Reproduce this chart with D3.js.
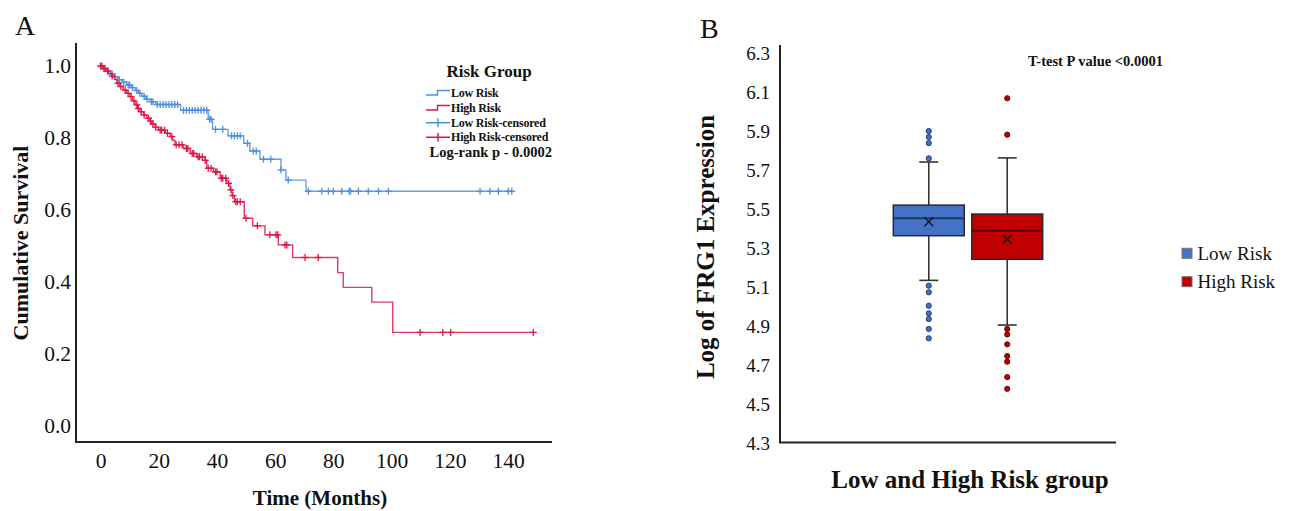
<!DOCTYPE html>
<html><head><meta charset="utf-8">
<script src="https://cdn.jsdelivr.net/npm/d3@7"></script>
<style>
body{margin:0;background:#fff}
svg{display:block}
text{font-family:"Liberation Serif","Times New Roman",serif;fill:#111}
</style>
</head><body>
<svg id="c" width="1293" height="511"></svg>
<script>
// ---------- Panel A: Kaplan-Meier data ----------
const kmTickLabels = [0, 20, 40, 60, 80, 100, 120, 140];
const survTickLabels = [0.0, 0.2, 0.4, 0.6, 0.8, 1.0];

const lowTimes = [0, 1.0, 2.0, 3.5, 4.5, 6.0, 7.5, 9.0, 10.5, 12.0, 13.0, 14.2, 15.5, 17.0, 19.0, 27.5, 37.0, 38.5, 43.8, 49.2, 51.3, 54.8, 62.0, 63.7, 70.6];
const lowSurv  = [1.0, 0.993, 0.986, 0.978, 0.970, 0.962, 0.955, 0.947, 0.940, 0.932, 0.924, 0.916, 0.908, 0.901, 0.893, 0.877, 0.852, 0.824, 0.806, 0.785, 0.764, 0.741, 0.711, 0.683, 0.652];
const lowEnd = 141.6;
const lowCensor = [1, 2.5, 4, 5, 6.5, 8, 9.5, 10, 11, 12.5, 13.5, 15, 16, 17.5, 18, 19.5, 20.5, 21.5, 22.5, 23.5, 24.5, 25.5, 26.5, 28.5, 29.5, 30.5, 31.5, 32.5, 33.5, 34.5, 35.5, 36.5, 37.5, 38, 39.5, 42, 45, 46, 47, 48, 50.5, 52.5, 53.5, 56, 58.5, 62, 64.5, 71.4, 76.0, 78.3, 80.0, 82.9, 85.4, 85.9, 88.6, 92.0, 95.5, 98.9, 130.4, 133.8, 136.7, 140.1, 141.3];

const highTimes = [0, 0.8, 1.8, 2.8, 3.8, 4.8, 5.6, 6.6, 7.8, 9.0, 10.1, 11.0, 11.9, 12.8, 13.6, 14.8, 15.9, 17.0, 17.6, 18.8, 19.9, 22.2, 23.9, 24.8, 25.6, 28.5, 30.8, 33.1, 35.9, 36.5, 38.8, 41.1, 43.4, 44.5, 45.2, 46.0, 49.4, 52.3, 56.5, 61.1, 66.0, 81.5, 83.4, 93.2, 100.4];
const highSurv  = [1.0, 0.993, 0.986, 0.979, 0.972, 0.963, 0.952, 0.943, 0.933, 0.924, 0.915, 0.903, 0.892, 0.882, 0.873, 0.864, 0.855, 0.847, 0.839, 0.830, 0.822, 0.813, 0.804, 0.793, 0.781, 0.771, 0.757, 0.748, 0.738, 0.716, 0.706, 0.688, 0.674, 0.656, 0.640, 0.623, 0.577, 0.556, 0.531, 0.503, 0.468, 0.426, 0.385, 0.344, 0.260];
const highEnd = 148.7;
const highCensor = [0, 0.5, 1.5, 2.5, 4, 6, 7, 8.5, 9.5, 10.5, 11.5, 12.5, 13, 14, 15, 16.5, 17.2, 18, 19, 20.5, 21, 22, 23, 24.5, 26, 27, 28, 29.5, 30, 31.5, 32, 33.5, 34, 35, 36, 37, 38, 39.5, 40, 41.5, 42, 43, 44, 44.8, 45.5, 46.5, 47, 48, 50.0, 53.9, 58.2, 60.3, 60.9, 63.4, 64.0, 70.3, 74.8, 109.8, 117.6, 120.3, 148.7];

// ---------- Panel B: box plot data ----------
const groups = ["Low Risk", "High Risk"];
const boxQ1     = [5.363, 5.242];
const boxMedian = [5.452, 5.389];
const boxQ3     = [5.520, 5.474];
const boxMean   = [5.435, 5.345];
const whiskLow  = [5.134, 4.905];
const whiskHigh = [5.741, 5.762];
const outliersLow  = [5.900, 5.869, 5.838, 5.760, 5.107, 5.073, 5.004, 4.965, 4.936, 4.885, 4.837];
const outliersHigh = [6.068, 5.881, 4.885, 4.857, 4.806, 4.746, 4.717, 4.638, 4.578];
const exprTicks = [4.3, 4.5, 4.7, 4.9, 5.1, 5.3, 5.5, 5.7, 5.9, 6.1, 6.3];

const BLUE_LINE = "#4d8fe0", RED_LINE = "#dc1744";
const BOX_FILL = ["#4472C4", "#C00000"];
const BOX_MED = ["#1f3864", "#5a0000"];
const DOT_STROKE = ["#233e70", "#6a0000"];

const svg = d3.select("#c");

// ================= Panel A =================
const A = svg.append("g");
const x = d3.scaleLinear().domain([0, 140]).range([100.5, 508]);
const y = d3.scaleLinear().domain([0, 1]).range([426, 66]);

A.append("text").attr("x", 15).attr("y", 35).attr("font-size", 28).text("A");

// axes
const xa = A.append("g").attr("transform", "translate(0,442)")
  .call(d3.axisBottom(x).tickValues(kmTickLabels).tickSize(0).tickPadding(11).tickFormat(d3.format("d")));
xa.select(".domain").remove();
xa.selectAll("text").attr("font-size", 21.5).attr("font-family", "Liberation Serif").attr("fill", "#111");
const ya = A.append("g").attr("transform", "translate(76,0)")
  .call(d3.axisLeft(y).tickValues(survTickLabels).tickSize(0).tickPadding(5).tickFormat(d3.format(".1f")));
ya.select(".domain").remove();
ya.selectAll("text").attr("font-size", 21.5).attr("font-family", "Liberation Serif").attr("fill", "#111");

A.append("path").attr("d", "M76,43V442H552").attr("fill", "none").attr("stroke", "#222").attr("stroke-width", 2);

A.append("text").attr("x", 320).attr("y", 505).attr("text-anchor", "middle")
  .attr("font-size", 21).attr("font-weight", "bold").text("Time (Months)");
A.append("text").attr("transform", "translate(28,243) rotate(-90)").attr("text-anchor", "middle")
  .attr("font-size", 22).attr("font-weight", "bold").text("Cumulative Survival");

function stepPts(times, surv, end) {
  const pts = times.map((t, i) => [t, surv[i]]);
  pts.push([end, surv[surv.length - 1]]);
  return pts;
}
function survAt(times, surv, t) {
  let s = surv[0];
  for (let i = 0; i < times.length; i++) if (times[i] <= t) s = surv[i];
  return s;
}
const line = d3.line().x(d => x(d[0])).y(d => y(d[1])).curve(d3.curveStepAfter);

function drawKM(times, surv, end, cens, color) {
  A.append("path").datum(stepPts(times, surv, end)).attr("d", line)
    .attr("fill", "none").attr("stroke", color).attr("stroke-width", 1.4).attr("opacity", 0.85);
  const g = A.append("g").attr("stroke", color).attr("stroke-width", 1.3);
  cens.forEach(t => {
    const cx = x(t), cy = y(survAt(times, surv, t));
    g.append("line").attr("x1", cx - 3.5).attr("x2", cx + 3.5).attr("y1", cy).attr("y2", cy);
    g.append("line").attr("x1", cx).attr("x2", cx).attr("y1", cy - 3.5).attr("y2", cy + 3.5);
  });
}
drawKM(lowTimes, lowSurv, lowEnd, lowCensor, BLUE_LINE);
drawKM(highTimes, highSurv, highEnd, highCensor, RED_LINE);

// legend A
A.append("text").attr("x", 489).attr("y", 77).attr("text-anchor", "middle")
  .attr("font-size", 17).attr("font-weight", "bold").text("Risk Group");
const legA = [
  {label: "Low Risk", color: BLUE_LINE, type: "step", y: 95},
  {label: "High Risk", color: RED_LINE, type: "step", y: 110},
  {label: "Low Risk-censored", color: BLUE_LINE, type: "cens", y: 122.7},
  {label: "High Risk-censored", color: RED_LINE, type: "cens", y: 137.3}
];
legA.forEach((d, i) => {
  if (d.type === "step") {
    A.append("path").attr("d", `M426,${d.y}H437.5V${d.y - 4.5}H450`).attr("fill", "none")
      .attr("stroke", d.color).attr("stroke-width", 1.4);
  } else {
    A.append("path").attr("d", `M426,${d.y}H450M438,${d.y - 4.5}V${d.y + 4.5}`).attr("fill", "none")
      .attr("stroke", d.color).attr("stroke-width", 1.4);
  }
  A.append("text").attr("x", 451).attr("y", [97, 112, 126.5, 141][i])
    .attr("font-size", 12).attr("font-weight", "bold").attr("letter-spacing", -0.2).text(d.label);
});
A.append("text").attr("x", 429.5).attr("y", 157)
  .attr("font-size", 14.5).attr("font-weight", "bold").text("Log-rank p - 0.0002");

// ================= Panel B =================
const B = svg.append("g");
const yb = d3.scaleLinear().domain([4.3, 6.3]).range([443, 53]);
const xb = d3.scaleBand().domain(groups).range([893.3, 1042.7]).paddingInner(0.0955).paddingOuter(0);

B.append("text").attr("x", 700).attr("y", 38).attr("font-size", 28).text("B");

const yba = B.append("g").attr("transform", "translate(780,0)")
  .call(d3.axisLeft(yb).tickValues(exprTicks).tickSize(0).tickPadding(10).tickFormat(d3.format(".1f")));
yba.select(".domain").remove();
yba.selectAll("text").attr("font-size", 19).attr("font-family", "Liberation Serif").attr("fill", "#111");
B.append("path").attr("d", "M780,45V442.5H1116").attr("fill", "none").attr("stroke", "#222").attr("stroke-width", 2);

B.append("text").attr("transform", "translate(714,247) rotate(-90)").attr("text-anchor", "middle")
  .attr("font-size", 25).attr("font-weight", "bold").text("Log of FRG1 Expression");
B.append("text").attr("x", 970).attr("y", 488).attr("text-anchor", "middle")
  .attr("font-size", 25).attr("font-weight", "bold").text("Low and High Risk group");
B.append("text").attr("x", 1095.5).attr("y", 66).attr("text-anchor", "middle")
  .attr("font-size", 14.5).attr("font-weight", "bold").text("T-test P value <0.0001");

const outl = [outliersLow, outliersHigh];
groups.forEach((gname, i) => {
  const x0 = xb(gname), w = xb.bandwidth(), cx = x0 + w / 2;
  const g = B.append("g");
  // whiskers
  g.append("line").attr("x1", cx).attr("x2", cx).attr("y1", yb(whiskHigh[i])).attr("y2", yb(boxQ3[i]))
    .attr("stroke", "#333").attr("stroke-width", 1.6);
  g.append("line").attr("x1", cx).attr("x2", cx).attr("y1", yb(boxQ1[i])).attr("y2", yb(whiskLow[i]))
    .attr("stroke", "#333").attr("stroke-width", 1.6);
  [whiskHigh[i], whiskLow[i]].forEach(v => {
    g.append("line").attr("x1", cx - 9.5).attr("x2", cx + 9.5).attr("y1", yb(v)).attr("y2", yb(v))
      .attr("stroke", "#333").attr("stroke-width", 1.6);
  });
  // box
  g.append("rect").attr("x", x0).attr("y", yb(boxQ3[i])).attr("width", w)
    .attr("height", yb(boxQ1[i]) - yb(boxQ3[i])).attr("fill", BOX_FILL[i])
    .attr("stroke", "#2a2a2a").attr("stroke-width", 1.5);
  g.append("line").attr("x1", x0 + 0.75).attr("x2", x0 + w - 0.75).attr("y1", yb(boxMedian[i])).attr("y2", yb(boxMedian[i]))
    .attr("stroke", BOX_MED[i]).attr("stroke-width", 2);
  // mean x
  const my = yb(boxMean[i]);
  g.append("path").attr("d", `M${cx - 4.5},${my - 4.5}L${cx + 4.5},${my + 4.5}M${cx - 4.5},${my + 4.5}L${cx + 4.5},${my - 4.5}`)
    .attr("stroke", "#111").attr("stroke-width", 1.3);
  // outliers
  outl[i].forEach(v => {
    g.append("circle").attr("cx", cx).attr("cy", yb(v)).attr("r", 2.6)
      .attr("fill", BOX_FILL[i]).attr("stroke", DOT_STROKE[i]).attr("stroke-width", 1);
  });
});

// legend B
groups.forEach((gname, i) => {
  const ly = [248.3, 276.7][i];
  B.append("rect").attr("x", 1182).attr("y", ly).attr("width", 10).attr("height", 10)
    .attr("fill", BOX_FILL[i]).attr("stroke", "#777").attr("stroke-width", 1);
  B.append("text").attr("x", 1197.5).attr("y", [259.5, 287.5][i]).attr("font-size", 19).text(gname);
});
</script>
</body></html>
